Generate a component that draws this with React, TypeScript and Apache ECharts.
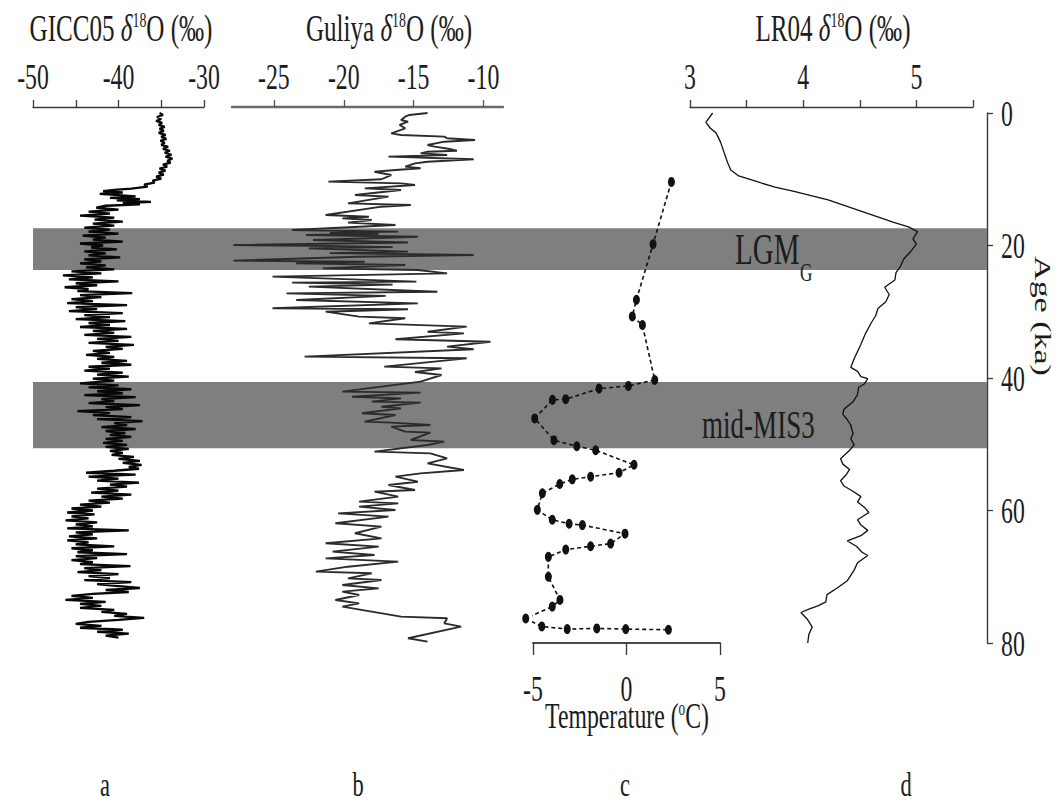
import React, { useEffect, useRef } from "react";
import * as echarts from "echarts";

// ---------- tick labels ----------
const ageTickLabels = [0, 20, 40, 60, 80];
const gicc05TickLabels = [-50, -40, -30];
const guliyaTickLabels = [-25, -20, -15, -10];
const tempTickLabels = [-5, 0, 5];
const lr04TickLabels = [3, 4, 5];
const panelLetters = ["a", "b", "c", "d"];

// ---------- shaded intervals (ka) ----------
const bandNames = ["LGM", "mid-MIS3"];
const bandStart = [17.4, 40.6];
const bandEnd = [23.7, 50.6];

// ---------- GICC05 δ18O [‰, age ka] ----------
const gicc05: number[][] = [
  [-35.2, 0], [-34.8, 0.3], [-35.5, 0.6], [-35.0, 0.9], [-35.6, 1.2], [-34.9, 1.5], [-35.3, 1.8], [-34.6, 2.1], [-35.2, 2.4], [-34.7, 2.7],
  [-35.3, 3.0], [-34.5, 3.3], [-35.0, 3.6], [-34.4, 3.9], [-35.1, 4.2], [-34.6, 4.5], [-35.0, 4.8], [-34.2, 5.1], [-34.8, 5.4], [-34.0, 5.7],
  [-34.6, 6.0], [-33.8, 6.3], [-34.5, 6.6], [-33.7, 6.9], [-34.3, 7.2], [-33.9, 7.5], [-34.8, 7.8], [-34.3, 8.1], [-35.2, 8.4], [-34.5, 8.7],
  [-35.3, 9.0], [-34.7, 9.3], [-35.6, 9.6], [-35.0, 9.9], [-36.0, 10.2], [-35.8, 10.5], [-37.0, 10.8], [-36.6, 11.1], [-38.5, 11.4], [-40.5, 11.6],
  [-41.8, 11.8], [-39.5, 12.0], [-42.2, 12.2], [-40.0, 12.4], [-38.0, 12.6], [-41.0, 12.8], [-37.5, 13.0], [-40.2, 13.2], [-36.2, 13.4], [-39.5, 13.6],
  [-37.5, 13.8], [-41.5, 14.0], [-42.6, 14.3], [-40.0, 14.6], [-43.5, 14.9], [-41.0, 15.2], [-44.5, 15.5], [-40.5, 15.8], [-42.8, 16.1], [-39.5, 16.4],
  [-43.0, 16.7], [-40.5, 17.0], [-44.0, 17.3], [-41.0, 17.6], [-43.5, 17.9], [-40.0, 18.2], [-44.2, 18.5], [-41.5, 18.8], [-43.0, 19.1], [-39.5, 19.4],
  [-44.5, 19.7], [-41.8, 20.0], [-43.2, 20.3], [-40.2, 20.6], [-44.0, 20.9], [-41.5, 21.2], [-43.5, 21.5], [-39.8, 21.8], [-44.0, 22.1], [-42.0, 22.4],
  [-44.5, 22.7], [-41.5, 23.0], [-43.8, 23.3], [-40.5, 23.6], [-45.5, 23.9], [-42.0, 24.2], [-46.5, 24.5], [-43.0, 24.8], [-45.8, 25.1], [-40.0, 25.4],
  [-45.0, 25.7], [-42.5, 26.0], [-46.3, 26.3], [-43.5, 26.6], [-44.8, 26.9], [-38.4, 27.2], [-44.5, 27.5], [-42.0, 27.8], [-45.5, 28.1], [-43.0, 28.4],
  [-46.0, 28.7], [-39.0, 29.0], [-45.0, 29.3], [-42.5, 29.6], [-45.8, 29.9], [-39.5, 30.2], [-44.0, 30.5], [-41.0, 30.8], [-45.0, 31.1], [-39.2, 31.4],
  [-43.5, 31.7], [-41.0, 32.0], [-44.5, 32.3], [-39.0, 32.6], [-43.0, 32.9], [-40.5, 33.2], [-44.0, 33.5], [-38.5, 33.8], [-42.5, 34.1], [-40.0, 34.4],
  [-43.5, 34.7], [-38.2, 35.0], [-41.5, 35.3], [-39.5, 35.6], [-43.0, 35.9], [-41.0, 36.2], [-43.8, 36.5], [-40.5, 36.8], [-42.5, 37.1], [-39.0, 37.4],
  [-42.0, 37.7], [-38.5, 38.0], [-43.5, 38.3], [-41.0, 38.6], [-44.0, 38.9], [-39.5, 39.2], [-42.5, 39.5], [-38.8, 39.8], [-43.0, 40.1], [-40.5, 40.4],
  [-44.5, 40.8], [-40.0, 41.1], [-43.5, 41.4], [-38.5, 41.7], [-42.5, 42.0], [-39.5, 42.3], [-44.0, 42.6], [-38.0, 42.9], [-42.0, 43.2], [-40.5, 43.5],
  [-43.5, 43.8], [-37.5, 44.1], [-41.5, 44.4], [-39.5, 44.7], [-44.8, 45.0], [-41.0, 45.3], [-43.0, 45.6], [-38.5, 45.9], [-42.5, 46.2], [-37.2, 46.5],
  [-40.5, 46.8], [-39.0, 47.1], [-42.0, 47.4], [-38.0, 47.7], [-41.5, 48.0], [-39.2, 48.3], [-41.0, 48.6], [-38.5, 48.9], [-41.5, 49.2], [-39.5, 49.5],
  [-41.8, 49.8], [-39.0, 50.1], [-41.5, 50.4], [-38.8, 50.7], [-41.0, 51.0], [-39.5, 51.3], [-40.8, 51.6], [-38.2, 51.9], [-40.0, 52.2], [-37.5, 52.5],
  [-39.5, 52.8], [-37.3, 53.1], [-38.8, 53.4], [-37.6, 53.7], [-40.5, 54.0], [-43.8, 54.3], [-38.0, 54.6], [-43.5, 54.9], [-40.0, 55.2], [-42.5, 55.5],
  [-37.6, 55.8], [-41.0, 56.1], [-39.0, 56.4], [-42.5, 56.7], [-40.0, 57.0], [-43.2, 57.3], [-38.5, 57.6], [-42.0, 57.9], [-39.5, 58.2], [-43.5, 58.5],
  [-41.0, 58.8], [-44.5, 59.1], [-42.0, 59.4], [-45.5, 59.7], [-43.0, 60.0], [-46.0, 60.3], [-42.8, 60.6], [-45.5, 60.9], [-43.5, 61.2], [-46.2, 61.5],
  [-42.5, 61.8], [-45.0, 62.1], [-43.0, 62.4], [-46.0, 62.7], [-38.8, 63.0], [-45.0, 63.3], [-43.0, 63.6], [-45.8, 63.9], [-42.5, 64.2], [-46.0, 64.5],
  [-43.5, 64.8], [-45.0, 65.1], [-40.5, 65.4], [-45.5, 65.7], [-43.0, 66.0], [-44.8, 66.3], [-39.0, 66.6], [-45.0, 66.9], [-42.5, 67.2], [-45.5, 67.5],
  [-43.0, 67.8], [-44.5, 68.1], [-38.6, 68.4], [-44.0, 68.7], [-42.0, 69.0], [-44.8, 69.3], [-40.0, 69.6], [-43.5, 69.9], [-41.0, 70.2], [-44.0, 70.5],
  [-38.5, 70.8], [-42.5, 71.1], [-40.0, 71.4], [-37.5, 71.7], [-41.5, 72.0], [-38.8, 72.3], [-43.0, 72.6], [-45.5, 72.9], [-43.0, 73.2], [-46.2, 73.5],
  [-41.5, 73.8], [-44.5, 74.1], [-42.0, 74.4], [-44.5, 74.7], [-40.5, 75.0], [-42.0, 75.3], [-39.0, 75.6], [-40.5, 75.9], [-37.0, 76.2], [-40.0, 76.5],
  [-43.5, 76.8], [-45.0, 77.1], [-42.0, 77.4], [-44.5, 77.7], [-39.5, 78.0], [-42.5, 78.3], [-38.8, 78.6], [-41.5, 78.9], [-40.0, 79.2],
];

// ---------- Guliya δ18O [‰, age ka] ----------
const guliya: number[][] = [
  [-14.0, 0], [-15.3, 0.3], [-15.6, 0.55], [-15.9, 1.06], [-15.4, 1.31], [-16.0, 1.81], [-15.6, 2.31], [-16.6, 3.07], [-15.9, 3.32], [-12.8, 3.57],
  [-12.6, 3.82], [-10.6, 4.08], [-12.8, 4.33], [-14.0, 4.83], [-13.5, 5.08], [-12.3, 5.48], [-11.9, 5.69], [-14.0, 5.84], [-14.5, 6.09], [-12.6, 6.34],
  [-16.8, 6.59], [-10.7, 6.99], [-14.0, 7.35], [-14.9, 7.6], [-15.6, 8.1], [-14.5, 8.35], [-16.3, 8.6], [-17.8, 8.86], [-16.6, 9.36], [-17.3, 10.0],
  [-21.1, 10.36], [-15.9, 10.62], [-14.9, 10.87], [-18.5, 11.37], [-15.9, 11.62], [-19.2, 12.38], [-16.8, 12.63], [-19.7, 13.64], [-15.2, 13.89], [-17.3, 14.14],
  [-21.3, 15.4], [-18.2, 15.65], [-20.1, 15.9], [-18.0, 16.15], [-19.7, 16.55], [-16.3, 16.91], [-23.7, 17.66], [-16.1, 17.91], [-21.0, 18.1], [-17.5, 18.25],
  [-22.7, 18.42], [-14.7, 18.67], [-22.2, 19.17], [-15.4, 19.55], [-27.9, 19.92], [-20.5, 20.1], [-16.5, 20.25], [-22.5, 20.43], [-15.4, 20.93], [-21.0, 21.15],
  [-10.7, 21.43], [-19.0, 21.7], [-27.9, 22.29], [-18.5, 22.45], [-23.4, 22.69], [-15.6, 22.94], [-21.5, 23.45], [-14.7, 23.7], [-12.6, 24.2], [-25.1, 24.7],
  [-14.8, 25.46], [-23.7, 25.61], [-16.5, 25.9], [-22.5, 26.21], [-13.3, 26.97], [-24.1, 27.22], [-17.0, 27.6], [-23.4, 28.23], [-14.7, 28.73], [-25.1, 29.48],
  [-15.4, 29.63], [-21.3, 29.99], [-18.9, 30.74], [-15.6, 30.99], [-18.2, 31.75], [-11.2, 32.25], [-14.0, 33.01], [-11.4, 33.26], [-16.3, 34.16], [-9.5, 34.52],
  [-12.6, 35.27], [-10.7, 35.67], [-22.8, 36.78], [-11.2, 37.03], [-17.1, 38.29], [-13.0, 38.54], [-14.9, 39.1], [-13.0, 39.55], [-14.5, 40.55], [-20.1, 42.06],
  [-14.5, 42.2], [-19.4, 42.82], [-15.9, 43.07], [-18.0, 43.57], [-14.5, 43.72], [-17.3, 44.33], [-15.9, 44.58], [-18.7, 45.33], [-16.3, 45.58], [-18.5, 46.59],
  [-16.6, 46.74], [-13.8, 47.09], [-16.6, 47.34], [-15.6, 48.1], [-13.8, 48.25], [-15.2, 49.36], [-12.8, 49.61], [-14.0, 50.11], [-17.8, 51.12], [-13.8, 51.37],
  [-12.6, 52.12], [-14.0, 52.88], [-11.4, 53.88], [-14.5, 54.39], [-16.3, 54.89], [-14.7, 55.65], [-16.8, 56.15], [-14.9, 56.9], [-17.8, 57.16], [-16.1, 57.91],
  [-18.9, 58.66], [-16.1, 58.92], [-18.9, 59.42], [-16.3, 59.92], [-20.4, 60.43], [-16.8, 60.93], [-20.6, 61.93], [-17.3, 62.44], [-19.2, 63.44], [-17.3, 64.2],
  [-21.3, 64.95], [-17.5, 65.46], [-20.8, 66.21], [-17.8, 66.71], [-21.3, 67.22], [-16.1, 67.72], [-19.7, 68.48], [-22.0, 69.23], [-18.0, 69.48], [-19.7, 70.24],
  [-17.3, 70.49], [-20.1, 71.24], [-17.5, 71.75], [-20.1, 72.25], [-18.9, 72.75], [-20.6, 73.51], [-18.9, 74.01], [-20.1, 74.51], [-15.9, 76.02], [-12.6, 76.27],
  [-12.8, 77.03], [-11.6, 77.53], [-15.4, 79.29], [-14.0, 79.8],
];

// ---------- Temperature [°C, age ka] ----------
const temperature: number[][] = [
  [2.4, 10.4], [1.42, 19.8], [0.53, 28.2], [0.31, 30.7], [0.85, 32.0], [1.51, 40.3], [0.1, 41.2], [-1.47, 41.6], [-3.25, 43.2], [-3.96, 43.3],
  [-4.91, 46.1], [-3.88, 49.4], [-2.66, 50.3], [-1.65, 50.9], [0.4, 53.1], [-0.4, 54.3], [-1.92, 54.9], [-2.9, 55.3], [-3.57, 56.0], [-4.5, 57.4],
  [-4.77, 59.9], [-3.97, 61.4], [-3.07, 62.0], [-2.36, 62.2], [-0.08, 63.5], [-0.85, 65.0], [-1.92, 65.4], [-3.25, 65.9], [-4.18, 67.0], [-4.18, 70.0],
  [-3.56, 73.5], [-3.97, 74.5], [-5.39, 76.3], [-4.53, 77.5], [-3.17, 77.9], [-1.59, 77.8], [-0.04, 77.9], [2.24, 78.0],
];

// ---------- LR04 δ18O [‰, age ka] ----------
const lr04: number[][] = [
  [3.2, 0], [3.14, 1.4], [3.18, 2.3], [3.23, 3.0], [3.27, 4.4], [3.3, 5.9], [3.33, 7.4], [3.36, 8.6], [3.43, 9.5], [3.58, 10.3],
  [3.75, 11.2], [3.91, 11.8], [4.22, 13.1], [4.51, 14.8], [4.8, 16.5], [4.93, 17.2], [5.01, 17.9], [4.97, 19.0], [5.0, 19.8], [4.95, 20.9],
  [4.89, 22.0], [4.86, 23.1], [4.82, 24.1], [4.81, 25.2], [4.76, 25.8], [4.72, 26.3], [4.76, 27.4], [4.73, 28.5], [4.66, 29.5], [4.64, 30.6],
  [4.6, 31.7], [4.55, 33.3], [4.51, 34.9], [4.48, 36.0], [4.45, 37.1], [4.42, 38.4], [4.48, 39.0], [4.51, 39.8], [4.57, 40.1], [4.54, 40.9],
  [4.49, 41.4], [4.48, 42.5], [4.44, 43.6], [4.36, 44.7], [4.35, 45.5], [4.39, 46.3], [4.42, 47.1], [4.44, 48.4], [4.42, 49.2], [4.45, 50.1],
  [4.41, 50.9], [4.33, 52.2], [4.35, 53.0], [4.41, 53.8], [4.38, 54.6], [4.33, 55.5], [4.36, 56.3], [4.44, 57.1], [4.51, 57.9], [4.48, 58.7],
  [4.54, 59.5], [4.58, 60.3], [4.48, 61.4], [4.51, 62.2], [4.57, 63.0], [4.51, 63.8], [4.39, 64.6], [4.47, 65.4], [4.52, 66.3], [4.57, 66.8],
  [4.48, 67.9], [4.45, 69.0], [4.39, 70.6], [4.3, 71.7], [4.21, 72.7], [4.2, 73.8], [4.13, 74.4], [4.05, 74.9], [3.98, 75.4], [4.04, 76.5],
  [4.08, 77.6], [4.05, 78.7], [4.04, 80.0],
];

const SERIF = '"Liberation Serif", "Times New Roman", Times, serif';
const INK = "#1c1c1c";
const BAND = "#7f7f7f";
const SQUASH = 0.66;
const GRID_TOP = 113;
const GRID_H = 530;
const TOP_OFFSET = 6;

const hiddenY = (gridIndex: number) => ({
  type: "value", gridIndex, min: 0, max: 80, inverse: true, show: false,
  splitLine: { show: false },
});

function buildOption(): any {
  const mkGrid = (left: number, width: number) => ({
    left, width, top: GRID_TOP, height: GRID_H, outerBoundsMode: "none", containLabel: false,
  });
  const topAxis = (gridIndex: number, min: number, max: number, extra: any, lineColor: string, lineWidth: number) => ({
    type: "value", gridIndex, position: "top", offset: TOP_OFFSET, min, max,
    axisLine: { show: true, onZero: false, lineStyle: { color: lineColor, width: lineWidth } },
    axisTick: { show: true, inside: false, length: 7, lineStyle: { color: lineColor, width: 1.3 } },
    axisLabel: { show: false },
    splitLine: { show: false },
    ...extra,
  });
  return {
    animation: false,
    backgroundColor: "#ffffff",
    grid: [
      mkGrid(33, 171),
      mkGrid(232, 271),
      mkGrid(533, 187),
      mkGrid(690, 283),
      mkGrid(33, 954),
    ],
    xAxis: [
      topAxis(0, -50, -30, { interval: 5 }, "#3a3a3a", 1.4),
      topAxis(1, -28, -8.6, { axisTick: { show: true, length: 7, customValues: guliyaTickLabels, lineStyle: { color: "#555", width: 1.3 } } }, "#6a6a6a", 2.4),
      {
        type: "value", gridIndex: 2, position: "bottom", min: -5, max: 5, interval: 5,
        axisLine: { show: true, onZero: false, lineStyle: { color: "#4a4a4a", width: 2 } },
        axisTick: { show: true, inside: false, length: 12, lineStyle: { color: "#333", width: 1.3 } },
        axisLabel: { show: false },
        splitLine: { show: false },
      },
      topAxis(3, 3, 5.5, { interval: 0.5 }, "#3a3a3a", 1.4),
      { type: "value", gridIndex: 4, min: 0, max: 1, show: false, splitLine: { show: false } },
    ],
    yAxis: [
      hiddenY(0),
      hiddenY(1),
      hiddenY(2),
      {
        type: "value", gridIndex: 3, min: 0, max: 80, interval: 20, inverse: true,
        position: "right", offset: 14,
        axisLine: { show: true, onZero: false, lineStyle: { color: "#3a3a3a", width: 1.4 } },
        axisTick: { show: true, inside: false, length: 6, lineStyle: { color: "#3a3a3a", width: 1.3 } },
        axisLabel: { show: false },
        splitLine: { show: false },
      },
      hiddenY(4),
    ],
    series: [
      {
        type: "custom", xAxisIndex: 4, yAxisIndex: 4, z: 1, silent: true,
        data: bandStart.map((s, i) => [0, s, bandEnd[i]]),
        encode: { x: 0, y: 1 },
        renderItem: (params: any, api: any) => {
          const cs = params.coordSys;
          const y0 = api.coord([0, api.value(1)])[1];
          const y1 = api.coord([0, api.value(2)])[1];
          return {
            type: "rect",
            shape: { x: cs.x, y: y0, width: cs.width, height: y1 - y0 },
            style: { fill: BAND },
          };
        },
      },
      {
        name: "GICC05", type: "line", xAxisIndex: 0, yAxisIndex: 0, z: 3, silent: true,
        data: gicc05, symbol: "none", lineStyle: { color: "#080808", width: 2.3 },
      },
      {
        name: "Guliya", type: "line", xAxisIndex: 1, yAxisIndex: 1, z: 3, silent: true,
        data: guliya, symbol: "none", lineStyle: { color: "#2b2b2b", width: 1.9 },
      },
      {
        name: "Temperature", type: "line", xAxisIndex: 2, yAxisIndex: 2, z: 4, silent: true, clip: false,
        data: temperature, symbol: "circle", symbolSize: [7, 10],
        itemStyle: { color: "#111111" },
        lineStyle: { color: "#111111", width: 1.6, type: [4, 3] },
      },
      {
        name: "LR04", type: "line", xAxisIndex: 3, yAxisIndex: 3, z: 3, silent: true,
        data: lr04, symbol: "none", lineStyle: { color: "#111111", width: 1.3 },
      },
    ],
  };
}

function txt(x: number, y: number, text: string, fontSize: number, align = "center", extra: any = {}, rich?: any): any {
  return {
    type: "text", x, y, scaleX: SQUASH, z: 100, silent: true,
    style: {
      text, fontSize, fontFamily: SERIF, fill: INK,
      align, textAlign: align, verticalAlign: "middle", textVerticalAlign: "middle",
      rich, ...extra,
    },
  };
}

function deltaRich(fontSize: number) {
  return {
    d: { fontSize, fontFamily: SERIF, fontStyle: "italic", fill: INK },
    s: { fontSize: Math.round(fontSize * 0.55), fontFamily: SERIF, fill: INK, verticalAlign: "top" },
  };
}

export default function App() {
  const ref = useRef<HTMLDivElement>(null);
  useEffect(() => {
    if (!ref.current) return;
    const chart = echarts.init(ref.current, undefined, { renderer: "svg" });
    chart.setOption(buildOption());

    const gx = (i: number, v: number) => chart.convertToPixel({ xAxisIndex: i } as any, v) as unknown as number;
    const gy = (i: number, v: number) => chart.convertToPixel({ yAxisIndex: i } as any, v) as unknown as number;

    const topLine = gy(0, 0) - TOP_OFFSET;
    const topLabelY = topLine - 30;
    const bottomLine = gy(2, 80);
    const rightAxisX = gx(3, 5.5) + 14;
    const TICK_FS = 36;

    const g: any[] = [];
    gicc05TickLabels.forEach((v) => g.push(txt(gx(0, v), topLabelY, String(v), TICK_FS)));
    guliyaTickLabels.forEach((v) => g.push(txt(gx(1, v), topLabelY, String(v), TICK_FS)));
    lr04TickLabels.forEach((v) => g.push(txt(gx(3, v), topLabelY, String(v), TICK_FS)));
    tempTickLabels.forEach((v) => g.push(txt(gx(2, v), bottomLine + 46, String(v), TICK_FS)));
    ageTickLabels.forEach((v) => g.push(txt(rightAxisX + 14, gy(3, v) + 1, String(v), TICK_FS, "left")));

    // titles
    g.push(txt(121, 28, "GICC05 {d|δ}{s|18}O (‰)", 38, "center", {}, deltaRich(38)));
    g.push(txt(389, 28, "Guliya {d|δ}{s|18}O (‰)", 38, "center", {}, deltaRich(38)));
    g.push(txt(833, 28, "LR04 {d|δ}{s|18}O (‰)", 38, "center", {}, deltaRich(38)));
    g.push(txt(627, 716, "Temperature ({s|o}C)", 36, "center", {}, deltaRich(36)));

    // Age axis name (rotated, squashed across the glyphs)
    g.push({
      type: "text", x: rightAxisX + 56, y: 316, rotation: -Math.PI / 2, scaleY: SQUASH, z: 100, silent: true,
      style: {
        text: "Age (ka)", fontSize: 34, fontFamily: SERIF, fill: INK,
        align: "center", textAlign: "center", verticalAlign: "middle", textVerticalAlign: "middle",
      },
    });

    // band labels
    g.push(txt(735, 249, bandNames[0], 44, "left"));
    g.push(txt(800, 272, "G", 26, "left"));
    g.push(txt(702, 424, bandNames[1], 41, "left"));

    // panel letters
    const letterX = [105, 358, 625, 906];
    panelLetters.forEach((l, i) => g.push(txt(letterX[i], 784, l, 34)));

    chart.setOption({ graphic: { elements: g } });
    return () => chart.dispose();
  }, []);
  return (
    <div
      ref={ref}
      style={{ position: "fixed", left: 0, top: 0, width: 1060, height: 809, background: "#fff" }}
    />
  );
}
